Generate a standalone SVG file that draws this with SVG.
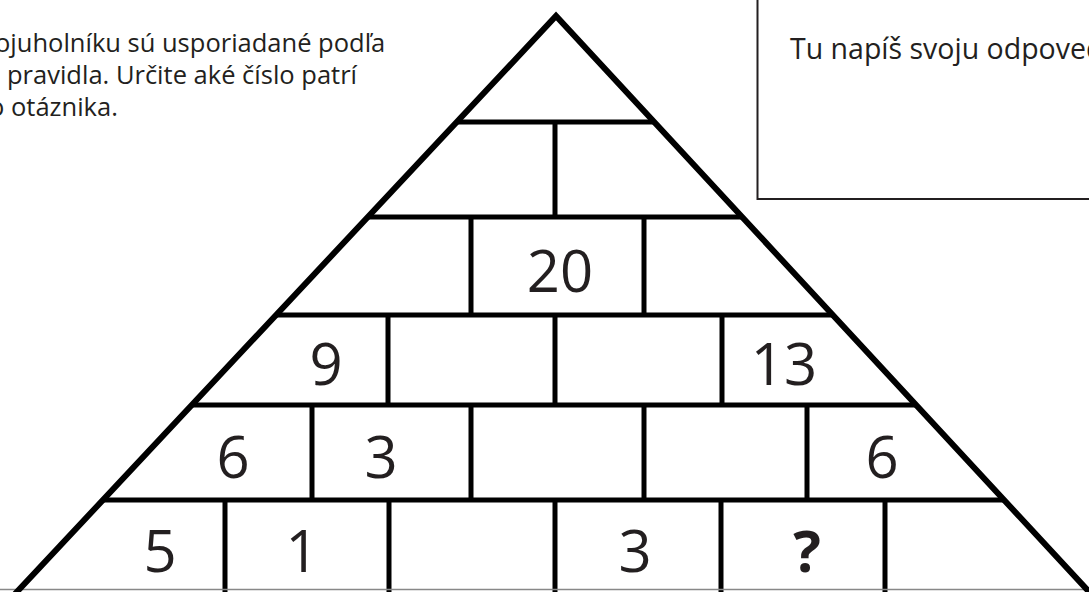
<svg xmlns="http://www.w3.org/2000/svg" width="1089" height="592" viewBox="0 0 1089 592">
<style>
  .t{font-family:"Open Sans","Noto Sans","Liberation Sans",sans-serif;fill:#231f20}
  .num{font-family:"Open Sans","Noto Sans","Liberation Sans",sans-serif;font-size:58px;fill:#231f20;text-anchor:middle}
  .ln{stroke:#000;stroke-width:5;fill:none}
  .edge{stroke:#000;stroke-width:6;fill:none;stroke-linejoin:miter}
</style>
<defs>
  <clipPath id="tri"><polygon points="556,16 14,595 1092,595"/></clipPath>
</defs>
<rect width="1089" height="592" fill="#fff"/>
<g id="instructions">
  <text class="t" font-size="25.5" x="-5" y="52">ojuholníku sú usporiadané podľa</text>
  <text class="t" font-size="25.5" x="7" y="84">pravidla. Určite aké číslo patrí</text>
  <text class="t" font-size="25.5" x="-11" y="116">o otáznika.</text>
</g>
<g id="answer-box">
  <rect x="757.5" y="-10" width="345" height="209" fill="none" stroke="#231f20" stroke-width="2"/>
  <text class="t" font-size="28.5" x="790" y="59">Tu napíš svoju odpoveď</text>
</g>
<g id="pyramid">
  <g clip-path="url(#tri)">
    <g id="rows" class="ln">
      <line x1="0" y1="122" x2="1089" y2="122"/>
      <line x1="0" y1="217" x2="1089" y2="217"/>
      <line x1="0" y1="315" x2="1089" y2="315"/>
      <line x1="0" y1="405" x2="1089" y2="405"/>
      <line x1="0" y1="500" x2="1089" y2="500"/>
    </g>
    <g id="dividers" class="ln">
      <line x1="555" y1="122" x2="555" y2="217"/>
      <line x1="471" y1="217" x2="471" y2="315"/>
      <line x1="644" y1="217" x2="644" y2="315"/>
      <line x1="388" y1="315" x2="388" y2="405"/>
      <line x1="555" y1="315" x2="555" y2="405"/>
      <line x1="722" y1="315" x2="722" y2="405"/>
      <line x1="312" y1="405" x2="312" y2="500"/>
      <line x1="471" y1="405" x2="471" y2="500"/>
      <line x1="644" y1="405" x2="644" y2="500"/>
      <line x1="807" y1="405" x2="807" y2="500"/>
      <line x1="225" y1="500" x2="225" y2="595"/>
      <line x1="389" y1="500" x2="389" y2="595"/>
      <line x1="555" y1="500" x2="555" y2="595"/>
      <line x1="721" y1="500" x2="721" y2="595"/>
      <line x1="885" y1="500" x2="885" y2="595"/>
    </g>
  </g>
  <line x1="0" y1="589.5" x2="1089" y2="589.5" stroke="#888" stroke-width="1.5"/>
  <polyline class="edge" points="14,595 556,16 1092,595"/>
</g>
<g id="numbers">
  <text class="num" x="560" y="292">20</text>
  <text class="num" x="326" y="385">9</text>
  <text class="num" x="784" y="385">13</text>
  <text class="num" x="233" y="478">6</text>
  <text class="num" x="381" y="478">3</text>
  <text class="num" x="882" y="478">6</text>
  <text class="num" x="160" y="572">5</text>
  <text class="num" x="302" y="572">1</text>
  <text class="num" x="635" y="572">3</text>
  <text class="num" x="807" y="572" font-weight="bold">?</text>
</g>
</svg>
